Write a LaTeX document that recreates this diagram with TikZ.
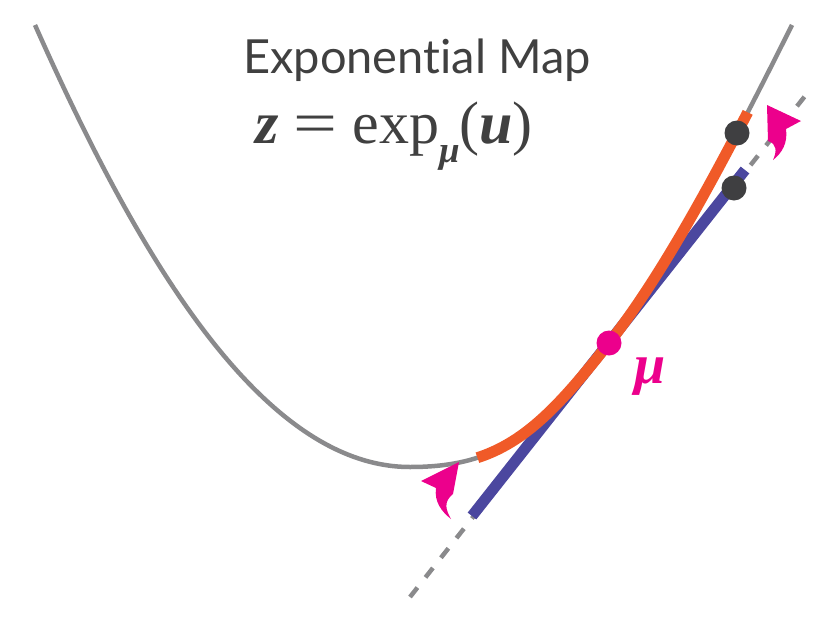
\documentclass[tikz,border=0pt]{standalone}
\usepackage{graphicx}
\usepackage{fontspec}
\setmainfont{Liberation Serif}
\newfontfamily\titlefont[Ligatures=NoCommon]{Lato}
\usetikzlibrary{arrows.meta, positioning}
\definecolor{curvegray}{HTML}{8A8A8C}
\definecolor{mapred}{HTML}{F05A28}
\definecolor{tanblue}{HTML}{4B479F}
\definecolor{mupink}{HTML}{EC008C}
\definecolor{dotgray}{HTML}{3F3F41}
\definecolor{textgray}{HTML}{404040}

\begin{document}
\begin{tikzpicture}[x=1pt, y=-1pt,
  manifold/.style={draw=curvegray, line width=4.5pt},
  geodesic/.style={draw=mapred, line width=11pt},
  tangent/.style={draw=tanblue, line width=11pt},
  tanline/.style={draw=curvegray, line width=4.5pt, dash pattern=on 12pt off 13pt},
  pt/.style={circle, fill=dotgray, inner sep=0pt, minimum size=25pt},
  mupt/.style={circle, fill=mupink, inner sep=0pt, minimum size=25pt},
  maparrow/.style={fill=mupink},
  heading/.style={font=\titlefont\fontsize{47}{50}\selectfont, text=textgray, anchor=base},
  formula/.style={font=\fontsize{60}{64}\selectfont, text=textgray, anchor=base}
]
\useasboundingbox (0,0) rectangle (831,627);

\coordinate (A) at (410,597);
\coordinate (B) at (809,91);
\coordinate (T0) at (472,516);
\coordinate (T1) at (745,170);
\coordinate (L) at (35,25);
\coordinate (V) at (410,467);
\coordinate (R) at (792,25);

\draw[tanline] (A) -- (B);
\draw[manifold] (L) .. controls (135,250) and (260,467) .. (V) .. controls (500,467) and (539,432) .. (609,343) .. controls (669,267) and (732,145) .. (R);
\draw[tangent] (T0) -- (T1);
\begin{scope}
  \clip (466,425) -- (487,485) -- (790,485) -- (790,133) -- (708,93) -- (466,93) -- cycle;
  \draw[geodesic] (V) .. controls (500,467) and (539,432) .. (609,343) .. controls (669,267) and (732,145) .. (R);
\end{scope}

\node[mupt] (M) at (609,343) {};
\node[pt] (Z) at (737,133) {};
\node[pt] (U) at (734,188) {};

\fill[maparrow] (459,462) -- (421,481) -- (436,488) .. controls (434,502) and (442,512) .. (451,519) .. controls (446,510) and (443,502) .. (453,494) -- cycle;
\fill[maparrow] (767,105) -- (801,121) -- (786,129) .. controls (788,143) and (782,153) .. (773,160) .. controls (777,151) and (777,144) .. (768,141) -- cycle;

\node[heading] (title) at (417,73) {Exponential Map};
\node[formula] (map) at (394,143) {\textbf{\textit{z}} \scalebox{1.3}[1]{=} exp\raisebox{-0.33em}{\fontsize{37}{37}\selectfont\textbf{\textit{μ}}}(\textbf{\textit{u}})};
\node[font=\fontsize{56}{60}\selectfont\bfseries\itshape, text=mupink, anchor=base] (mulab) at (650,383) {μ};

\end{tikzpicture}
\end{document}
